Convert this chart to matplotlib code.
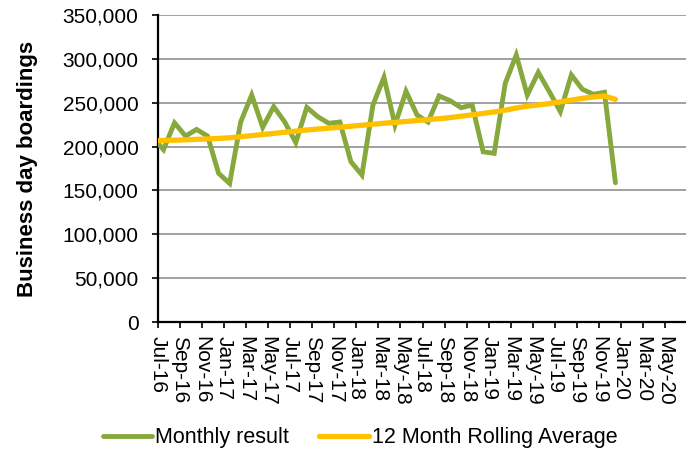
import matplotlib
matplotlib.use("Agg")
import matplotlib.pyplot as plt
from matplotlib.ticker import FuncFormatter
from matplotlib.transforms import ScaledTranslation

plt.rcParams['font.family'] = ['Liberation Sans', 'DejaVu Sans']

# months from Jun-16 to Dec-19 (Jun-16 sits just left of the axis and is clipped)
months = ['Jun-16',
          'Jul-16', 'Aug-16', 'Sep-16', 'Oct-16', 'Nov-16', 'Dec-16',
          'Jan-17', 'Feb-17', 'Mar-17', 'Apr-17', 'May-17', 'Jun-17',
          'Jul-17', 'Aug-17', 'Sep-17', 'Oct-17', 'Nov-17', 'Dec-17',
          'Jan-18', 'Feb-18', 'Mar-18', 'Apr-18', 'May-18', 'Jun-18',
          'Jul-18', 'Aug-18', 'Sep-18', 'Oct-18', 'Nov-18', 'Dec-18',
          'Jan-19', 'Feb-19', 'Mar-19', 'Apr-19', 'May-19', 'Jun-19',
          'Jul-19', 'Aug-19', 'Sep-19', 'Oct-19', 'Nov-19', 'Dec-19']

monthly = [211000,
           196500, 227000, 212000, 219500, 212000, 169500,
           158000, 228000, 258800, 222000, 245500, 228000,
           204500, 244700, 234000, 226500, 228000, 182800,
           167600, 247400, 279000, 224600, 263000, 236000,
           228000, 257700, 252300, 244300, 247400, 194000,
           192300, 272000, 304400, 258800, 284600, 262600,
           239800, 281600, 265300, 259600, 261900, 158800]

rolling = [206500,
           207000, 207300, 207700, 208200, 208700, 209300,
           210000, 211200, 212500, 213800, 215000, 216300,
           217600, 218900, 220000, 221000, 222000, 223200,
           224300, 225500, 226600, 227600, 228600, 229700,
           230700, 231800, 233000, 234600, 236200, 237800,
           239500, 241500, 244000, 246000, 247500, 249000,
           251000, 253000, 255000, 256500, 257600, 253800]

# axis labels every second month, Jul-16 .. May-20
tick_labels = ['Jul-16', 'Sep-16', 'Nov-16', 'Jan-17', 'Mar-17', 'May-17',
               'Jul-17', 'Sep-17', 'Nov-17', 'Jan-18', 'Mar-18', 'May-18',
               'Jul-18', 'Sep-18', 'Nov-18', 'Jan-19', 'Mar-19', 'May-19',
               'Jul-19', 'Sep-19', 'Nov-19', 'Jan-20', 'Mar-20', 'May-20']

# points sit mid-month, Jul-16 tick at 0
x = [i - 0.5 for i in range(len(months))]

fig = plt.figure(figsize=(6.86, 4.57), dpi=100)
ax = fig.add_axes([0.2303, 0.2954, 0.7697, 0.6718])

ax.plot(x, monthly, color='#86A83D', lw=3.5, solid_joinstyle='miter',
        solid_capstyle='round', label='Monthly result', zorder=3)
ax.plot(x, rolling, color='#FFC000', lw=3.8, solid_capstyle='round',
        label='12 Month Rolling Average', zorder=4)

ax.set_xlim(0, 47.9)
ax.set_ylim(0, 350000)
ax.set_yticks(range(0, 350001, 50000))
ax.yaxis.set_major_formatter(FuncFormatter(lambda v, p: f'{int(v):,}'))
ax.set_xticks([2 * i for i in range(len(tick_labels))])
ax.set_xticklabels(tick_labels, rotation=-90, va='top', ha='center')
# nudge the rotated labels a little right, like the original
shift = ScaledTranslation(3 / 100, 0, fig.dpi_scale_trans)
for lbl in ax.get_xticklabels():
    lbl.set_transform(lbl.get_transform() + shift)

ax.grid(axis='y', color='#A0A0A0', lw=1.4, zorder=0)
ax.set_axisbelow(True)
for s in ['top', 'right']:
    ax.spines[s].set_visible(False)
for s in ['left', 'bottom']:
    ax.spines[s].set_linewidth(1.6)
    ax.spines[s].set_color('black')
ax.tick_params(axis='both', labelsize=15, length=4, width=1.2, color='black')
ax.tick_params(axis='y', pad=10)
ax.tick_params(axis='x', pad=6)

ax.set_ylabel('Business day boardings', fontsize=16, fontweight='bold')
ax.yaxis.set_label_coords(-0.227, 0.5)

fig.legend(loc='center', bbox_to_anchor=(0.525, 0.042), ncol=2, frameon=False,
           fontsize=15.5, handlelength=2.3, handletextpad=0.15, columnspacing=1.4)

fig.savefig('out.png', dpi=100)
